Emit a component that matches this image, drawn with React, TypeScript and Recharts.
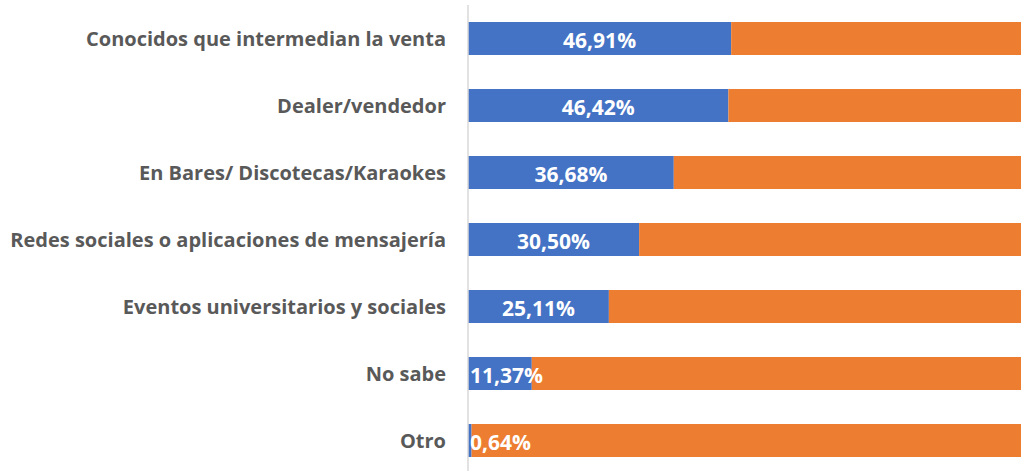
import React from 'react'
import { BarChart, Bar, XAxis, YAxis, LabelList } from 'recharts'

const categories = [
    'Conocidos que intermedian la venta',
    'Dealer/vendedor',
    'En Bares/ Discotecas/Karaokes',
    'Redes sociales o aplicaciones de mensajería',
    'Eventos universitarios y sociales',
    'No sabe',
    'Otro',
]
const values = [46.91, 46.42, 36.68, 30.5, 25.11, 11.37, 0.64]

const data = categories.map((name, i) => ({
    name,
    value: values[i],
    rest: 100 - values[i],
}))

const BLUE = '#4472C4'
const ORANGE = '#ED7D31'
const FONT = '"Open Sans", Lato, sans-serif'

const fmt = (v: number) => v.toFixed(2).replace('.', ',') + '%'

const ValueLabel = (props: any) => {
    const { x, y, width, height, value } = props
    const narrow = width < 80
    return (
        <text
            x={narrow ? x + 2 : x + width / 2}
            y={y + height / 2 + 1}
            fill="#fff"
            fontFamily={FONT}
            fontWeight={700}
            fontSize={21}
            textAnchor={narrow ? 'start' : 'middle'}
            dominantBaseline="central"
        >
            {fmt(value)}
        </text>
    )
}

export default function App() {
    return (
        <div style={{ width: 1021, height: 471, overflow: 'hidden', background: '#fff' }}>
            <style>{`body{margin:0}`}</style>
            <BarChart
                layout="vertical"
                width={1040}
                height={480}
                data={data}
                margin={{ top: 5, right: 11, bottom: 6, left: 0 }}
                barSize={33}
            >
                <XAxis type="number" domain={[0, 100]} hide />
                <YAxis
                    type="category"
                    dataKey="name"
                    width={468}
                    tickLine={false}
                    tickSize={0}
                    tickMargin={22}
                    axisLine={{ stroke: '#d9d9d9', strokeWidth: 1.5 }}
                    tick={{ fill: '#595959', fontSize: 20, fontWeight: 700, fontFamily: FONT }}
                    interval={0}
                />
                <Bar dataKey="value" stackId="a" fill={BLUE} isAnimationActive={false}>
                    <LabelList dataKey="value" content={ValueLabel} />
                </Bar>
                <Bar dataKey="rest" stackId="a" fill={ORANGE} isAnimationActive={false} />
            </BarChart>
        </div>
    )
}
